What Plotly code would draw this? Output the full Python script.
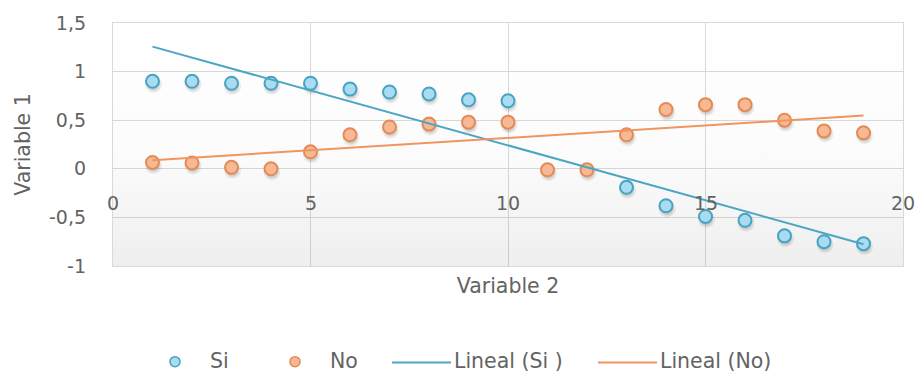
import numpy as np
import plotly.graph_objects as go

# ---------------- data ----------------
x_vals = list(range(1, 20))
si_vals = [0.90, 0.90, 0.88, 0.88, 0.88, 0.82, 0.79, 0.77, 0.71, 0.70,
           None, None, -0.19, -0.38, -0.49, -0.53, -0.69, -0.75, -0.77]
no_vals = [0.065, 0.06, 0.015, 0.0, 0.175, 0.35, 0.43, 0.46, 0.48, 0.48,
           -0.01, -0.01, 0.35, 0.61, 0.66, 0.66, 0.50, 0.39, 0.37]
series_names = ["Si", "No"]
trend_names = ["Lineal (Si )", "Lineal (No)"]
y_tick_vals = [-1, -0.5, 0, 0.5, 1, 1.5]
y_tick_text = ["-1", "-0,5", "0", "0,5", "1", "1,5"]
x_tick_vals = [0, 5, 10, 15, 20]
x_tick_text = ["0", "5", "10", "15", "20"]
x_title = "Variable 2"
y_title = "Variable 1"

# ---------------- style ----------------
W, H = 918, 375
ML, MR, MT, MB = 113, 15, 17, 109
PW, PH = W - ML - MR, H - MT - MB
XR = [0, 20]
YR = [-1, 1.5]
FONT = "'DejaVu Sans', sans-serif"
TXT = "#636363"
GRID = "#d9d9d9"
TICK_SIZE = 19
LABEL_SIZE = 20.5
si_fill, si_edge, si_line = "#aadcf1", "#46a3c2", "#4aa6c3"
no_fill, no_edge, no_line = "#f6b993", "#e48a55", "#f0955f"


def px_x(p):
    return (p - ML) / PW


def px_y(p):
    return (H - MB - p) / PH


def trend(xs, ys):
    pts = [(a, b) for a, b in zip(xs, ys) if b is not None]
    xa = np.array([p[0] for p in pts], float)
    ya = np.array([p[1] for p in pts], float)
    k, b = np.polyfit(xa, ya, 1)
    xe = np.array([xa.min(), xa.max()])
    return xe, k * xe + b


fig = go.Figure()

# background gradient (semi-transparent so gridlines show)
fig.add_trace(go.Scatter(
    x=[XR[0], XR[1], XR[1], XR[0], XR[0]], y=[YR[0], YR[0], YR[1], YR[1], YR[0]],
    mode="none", fill="toself",
    fillgradient=dict(type="vertical",
                      colorscale=[[0, "rgba(0,0,0,0.065)"], [0.45, "rgba(0,0,0,0.015)"],
                                  [1, "rgba(0,0,0,0)"]]),
    hoverinfo="skip", showlegend=False, xaxis="x", yaxis="y"))

# soft shadows (shifted overlay axes)
for ys in (si_vals, no_vals):
    fig.add_trace(go.Scatter(x=x_vals, y=ys, mode="markers",
                             marker=dict(size=17, color="rgba(0,0,0,0.07)", line=dict(width=0)),
                             hoverinfo="skip", showlegend=False, xaxis="x2", yaxis="y2"))
    fig.add_trace(go.Scatter(x=x_vals, y=ys, mode="markers",
                             marker=dict(size=13, color="rgba(0,0,0,0.10)", line=dict(width=0)),
                             hoverinfo="skip", showlegend=False, xaxis="x2", yaxis="y2"))

# series markers
fig.add_trace(go.Scatter(x=x_vals, y=si_vals, mode="markers", name=series_names[0],
                         marker=dict(size=13, color=si_fill, line=dict(color=si_edge, width=2)),
                         showlegend=False, xaxis="x3", yaxis="y3"))
fig.add_trace(go.Scatter(x=x_vals, y=no_vals, mode="markers", name=series_names[1],
                         marker=dict(size=13, color=no_fill, line=dict(color=no_edge, width=2)),
                         showlegend=False, xaxis="x3", yaxis="y3"))

# trend lines
for ys, col, nm in ((si_vals, si_line, trend_names[0]), (no_vals, no_line, trend_names[1])):
    tx, ty = trend(x_vals, ys)
    fig.add_trace(go.Scatter(x=tx, y=ty, mode="lines", name=nm,
                             line=dict(color=col, width=2),
                             showlegend=False, xaxis="x3", yaxis="y3"))

# shadow offset in px
sdx, sdy = 1, 3
dx = sdx * (XR[1] - XR[0]) / PW
dy = sdy * (YR[1] - YR[0]) / PH

hidden = dict(visible=False, showgrid=False, zeroline=False)
fig.update_layout(
    width=W, height=H,
    margin=dict(l=ML, r=MR, t=MT, b=MB),
    paper_bgcolor="white", plot_bgcolor="white",
    font=dict(family=FONT, color=TXT, size=TICK_SIZE),
    showlegend=False,
    xaxis=dict(range=XR, tickvals=x_tick_vals, showticklabels=False, showgrid=True,
               gridcolor=GRID, gridwidth=1.3, zeroline=False, showline=True,
               linecolor=GRID, linewidth=1.3, mirror=True, ticks="",
               title=dict(text=x_title, font=dict(size=LABEL_SIZE), standoff=12)),
    yaxis=dict(range=YR, tickvals=y_tick_vals, ticktext=y_tick_text, showgrid=True,
               gridcolor=GRID, gridwidth=1.3, zeroline=False, showline=True,
               linecolor=GRID, linewidth=1.3, mirror=True, ticks="",
               ticklabelstandoff=22, tickfont=dict(size=TICK_SIZE),
               title=dict(text=y_title, font=dict(size=LABEL_SIZE), standoff=12)),
    xaxis2=dict(range=[XR[0] - dx, XR[1] - dx], overlaying="x", **hidden),
    yaxis2=dict(range=[YR[0] + dy, YR[1] + dy], overlaying="y", **hidden),
    xaxis3=dict(range=XR, overlaying="x", **hidden),
    yaxis3=dict(range=YR, overlaying="y", **hidden),
)

# x tick labels inside plot (Excel style axis crossing at 0)
for v, t in zip(x_tick_vals, x_tick_text):
    fig.add_annotation(x=v, y=-0.355, xref="x", yref="y", text=t, showarrow=False,
                       font=dict(size=TICK_SIZE, color=TXT), xanchor="center", yanchor="middle")

# manual legend
ly = px_y(363)
mr = 5
for cx, fill, edge, tx, label in ((175, si_fill, si_edge, 208, series_names[0]),
                                   (295, no_fill, no_edge, 328, series_names[1])):
    fig.add_shape(type="circle", xref="paper", yref="paper",
                  xsizemode="pixel", ysizemode="pixel",
                  xanchor=px_x(cx), yanchor=px_y(364),
                  x0=-mr, x1=mr, y0=-mr, y1=mr,
                  fillcolor=fill, line=dict(color=edge, width=1.5))
    fig.add_annotation(x=px_x(tx), y=ly, xref="paper", yref="paper", text=label,
                       showarrow=False, xanchor="left", yanchor="middle",
                       font=dict(size=LABEL_SIZE, color=TXT))
for x0, x1, col, tx, label in ((392, 451, si_line, 452, trend_names[0]),
                               (598, 657, no_line, 658, trend_names[1])):
    fig.add_shape(type="line", xref="paper", yref="paper",
                  x0=px_x(x0), x1=px_x(x1), y0=px_y(365), y1=px_y(365),
                  line=dict(color=col, width=2))
    fig.add_annotation(x=px_x(tx), y=ly, xref="paper", yref="paper", text=label,
                       showarrow=False, xanchor="left", yanchor="middle",
                       font=dict(size=LABEL_SIZE, color=TXT))

fig.write_html("out.html", config={"displayModeBar": False},
               post_script="document.body.style.margin='0px';")
